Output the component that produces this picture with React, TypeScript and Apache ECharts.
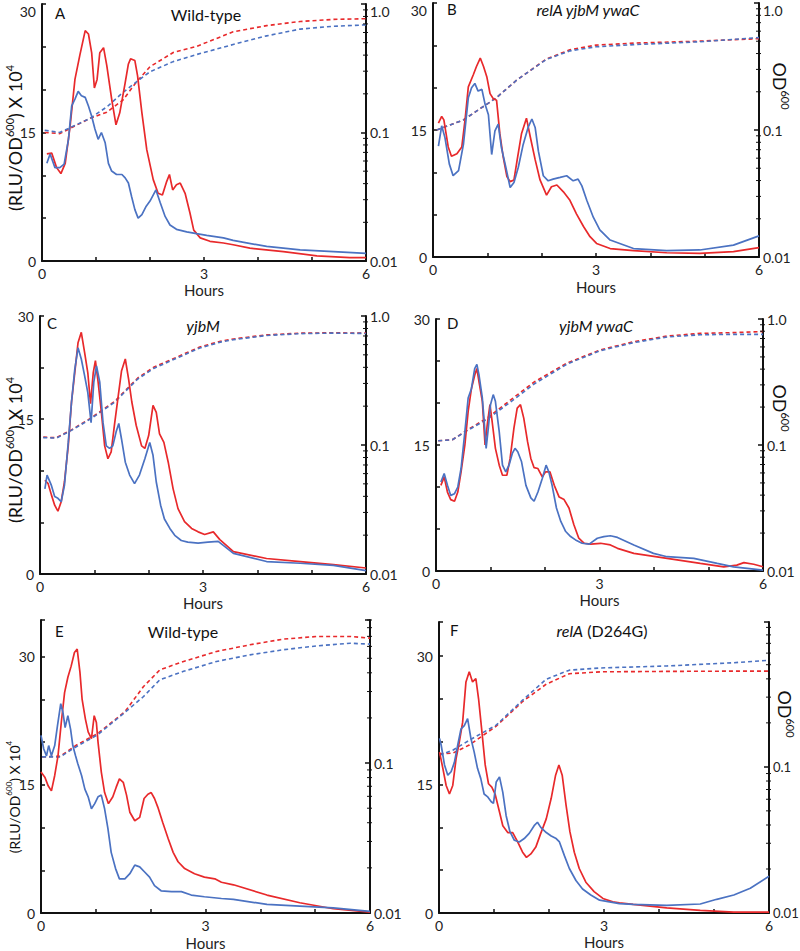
import React, { useEffect, useRef } from 'react';
import * as echarts from 'echarts';

const RED = '#e8292b';
const BLUE = '#4b72c2';
const FONT = 'Lato, "Open Sans", sans-serif';

// ---------- Data (hours, value) ----------
// Panel A  Wild-type
const aRedRLU = [[0.09,12.5],[0.18,12.6],[0.27,10.9],[0.35,10.2],[0.43,11.4],[0.52,15.7],[0.61,21.2],[0.70,24.0],[0.80,26.9],[0.86,26.5],[0.92,24.3],[0.97,20.2],[1.02,21.2],[1.07,24.3],[1.14,24.9],[1.20,22.8],[1.29,18.9],[1.37,15.9],[1.44,17.3],[1.54,20.8],[1.60,23.0],[1.64,23.6],[1.72,23.4],[1.77,21.6],[1.85,17.3],[1.94,13.0],[2.06,9.5],[2.15,7.9],[2.23,7.7],[2.31,9.3],[2.36,10.1],[2.42,8.3],[2.49,8.9],[2.56,9.1],[2.65,7.9],[2.74,5.6],[2.81,3.6],[2.93,2.7],[3.11,2.3],[3.36,2.1],[3.54,1.9],[3.85,1.5],[4.47,1.1],[5.09,0.6],[5.7,0.4],[6.0,0.4]];
const aBlueRLU = [[0.09,11.4],[0.15,12.5],[0.24,10.9],[0.33,10.9],[0.41,11.3],[0.49,14.2],[0.55,18.1],[0.61,18.9],[0.67,19.8],[0.73,19.3],[0.80,19.1],[0.86,18.1],[0.92,16.9],[0.98,15.4],[1.04,14.2],[1.10,15.0],[1.17,13.8],[1.23,11.4],[1.29,10.5],[1.38,10.1],[1.48,10.1],[1.54,9.7],[1.60,9.1],[1.66,7.5],[1.72,6.0],[1.78,5.0],[1.85,5.4],[1.93,6.4],[2.0,7.0],[2.11,8.3],[2.19,6.8],[2.28,5.2],[2.37,4.2],[2.49,3.7],[2.68,3.4],[2.86,3.2],[3.05,3.0],[3.36,2.7],[3.54,2.4],[4.16,1.7],[4.78,1.3],[5.4,1.1],[6.0,0.9]];
const aRedOD = [[0.05,0.1],[0.33,0.098],[0.89,0.129],[1.2,0.144],[1.5,0.179],[1.75,0.248],[2.0,0.325],[2.43,0.419],[2.86,0.467],[3.54,0.608],[4.16,0.679],[4.78,0.731],[5.4,0.759],[6.0,0.768]];
const aBlueOD = [[0.05,0.104],[0.33,0.1],[0.89,0.129],[1.2,0.158],[1.5,0.205],[1.75,0.248],[2.0,0.297],[2.43,0.356],[2.86,0.404],[3.54,0.484],[4.16,0.565],[4.78,0.638],[5.4,0.671],[6.0,0.688]];

// Panel B  relA yjbM ywaC
const bRedRLU = [[0.10,15.8],[0.16,16.6],[0.20,16.2],[0.28,13.0],[0.34,11.9],[0.44,12.2],[0.53,13.0],[0.59,16.2],[0.65,20.1],[0.74,21.5],[0.80,22.5],[0.87,23.5],[0.93,22.5],[0.99,21.3],[1.05,19.3],[1.11,18.7],[1.17,18.5],[1.23,14.6],[1.29,11.9],[1.36,9.5],[1.42,8.9],[1.49,9.1],[1.55,11.5],[1.63,14.6],[1.72,16.4],[1.79,14.2],[1.88,11.5],[1.97,9.1],[2.09,7.3],[2.18,8.3],[2.28,8.5],[2.40,7.7],[2.52,6.7],[2.64,5.1],[2.77,3.6],[2.89,2.4],[3.01,1.6],[3.26,1.0],[3.69,0.75],[4.3,0.5],[4.91,0.43],[5.53,0.63],[6.0,1.1]];
const bBlueRLU = [[0.10,13.1],[0.16,15.5],[0.22,14.1],[0.30,11.0],[0.37,9.6],[0.47,10.2],[0.56,13.3],[0.65,18.8],[0.71,20.0],[0.77,20.5],[0.83,19.6],[0.90,19.8],[0.96,18.0],[1.02,16.8],[1.08,12.1],[1.14,14.9],[1.20,15.7],[1.26,12.9],[1.34,10.6],[1.42,8.2],[1.49,8.8],[1.57,10.6],[1.66,13.3],[1.75,15.3],[1.82,16.3],[1.88,15.3],[1.94,12.5],[2.03,9.6],[2.12,9.0],[2.21,9.2],[2.34,9.4],[2.46,9.6],[2.58,9.0],[2.67,9.2],[2.74,8.4],[2.83,6.7],[2.95,4.7],[3.07,3.2],[3.26,2.0],[3.69,1.0],[4.3,0.75],[4.91,0.83],[5.53,1.4],[6.0,2.5]];
const bRedOD = [[0.07,0.1],[0.56,0.12],[1.17,0.18],[1.54,0.247],[2.09,0.363],[2.52,0.428],[3.0,0.466],[3.69,0.483],[4.91,0.501],[6.0,0.524]];
const bBlueOD = [[0.07,0.1],[0.56,0.12],[1.17,0.18],[1.54,0.247],[2.09,0.36],[2.52,0.42],[3.0,0.452],[3.69,0.47],[4.91,0.495],[6.0,0.534]];

// Panel C  yjbM
const cRedRLU = [[0.09,10.9],[0.15,10.5],[0.21,9.2],[0.27,8.0],[0.33,7.3],[0.39,8.4],[0.45,10.7],[0.52,14.9],[0.58,20.0],[0.64,23.4],[0.70,26.9],[0.76,28.1],[0.82,25.8],[0.88,23.4],[0.93,19.8],[0.98,23.4],[1.02,24.8],[1.07,22.3],[1.13,18.8],[1.19,14.9],[1.25,13.4],[1.31,14.2],[1.37,17.3],[1.44,20.7],[1.50,23.6],[1.57,25.0],[1.63,22.7],[1.69,20.0],[1.77,17.3],[1.87,14.9],[1.93,14.6],[2.0,16.1],[2.08,19.6],[2.14,18.8],[2.20,16.3],[2.28,15.3],[2.36,13.0],[2.45,9.9],[2.54,7.6],[2.66,6.1],[2.79,5.3],[2.91,4.9],[3.03,4.6],[3.19,4.9],[3.31,4.0],[3.56,2.6],[4.17,1.8],[4.79,1.45],[5.4,1.1],[6.0,0.7]];
const cBlueRLU = [[0.09,9.9],[0.13,11.5],[0.21,10.3],[0.27,9.0],[0.33,8.8],[0.39,8.4],[0.45,10.3],[0.52,15.3],[0.58,20.0],[0.64,23.8],[0.70,26.3],[0.76,25.0],[0.82,23.1],[0.88,21.1],[0.94,17.6],[0.99,22.3],[1.04,24.2],[1.10,22.3],[1.16,17.6],[1.22,14.9],[1.28,14.6],[1.34,14.9],[1.40,16.5],[1.45,17.5],[1.50,15.7],[1.57,13.0],[1.65,11.5],[1.74,10.5],[1.83,11.5],[1.93,13.4],[2.02,15.3],[2.08,13.8],[2.14,10.7],[2.22,8.0],[2.29,6.4],[2.39,5.3],[2.48,4.5],[2.60,3.9],[2.72,3.7],[2.91,3.6],[3.09,3.7],[3.28,3.8],[3.56,2.4],[4.17,1.45],[4.79,1.25],[5.4,1.0],[6.0,0.4]];
const cRedOD = [[0.06,0.115],[0.3,0.114],[0.58,0.131],[0.94,0.162],[1.37,0.217],[1.8,0.331],[2.09,0.4],[2.42,0.46],[2.94,0.575],[3.34,0.64],[3.56,0.664],[4.17,0.714],[4.79,0.736],[5.4,0.741],[6.0,0.736]];
const cBlueOD = [[0.06,0.114],[0.3,0.113],[0.58,0.13],[0.94,0.16],[1.37,0.214],[1.8,0.325],[2.09,0.392],[2.42,0.452],[2.94,0.565],[3.34,0.63],[3.56,0.655],[4.17,0.706],[4.79,0.73],[5.4,0.737],[6.0,0.732]];

// Panel D  yjbM ywaC
const dRedRLU = [[0.09,10.2],[0.15,11.2],[0.21,9.4],[0.27,8.5],[0.34,8.3],[0.40,9.4],[0.46,11.8],[0.53,15.0],[0.59,19.0],[0.65,21.7],[0.71,23.3],[0.75,24.1],[0.79,22.5],[0.85,20.2],[0.90,15.0],[0.94,17.4],[0.99,19.8],[1.03,17.8],[1.09,14.6],[1.16,12.6],[1.22,11.4],[1.30,11.4],[1.36,13.4],[1.43,17.0],[1.49,19.4],[1.55,19.8],[1.61,18.2],[1.68,15.4],[1.74,13.4],[1.80,12.3],[1.87,12.2],[1.95,11.2],[2.01,11.8],[2.09,11.8],[2.17,10.2],[2.26,8.8],[2.35,8.5],[2.44,7.5],[2.53,5.5],[2.62,3.9],[2.72,3.3],[2.84,3.2],[3.02,3.3],[3.20,3.1],[3.33,2.7],[3.63,2.1],[4.24,1.5],[4.85,0.9],[5.28,0.5],[5.52,0.7],[5.65,1.0],[5.83,0.8],[6.0,0.5]];
const dBlueRLU = [[0.09,10.6],[0.15,11.6],[0.21,10.2],[0.27,9.0],[0.34,9.2],[0.40,10.0],[0.46,12.2],[0.53,16.6],[0.59,20.6],[0.65,21.7],[0.71,24.1],[0.75,24.6],[0.79,23.3],[0.85,20.6],[0.88,18.2],[0.92,14.6],[0.96,17.0],[1.0,19.8],[1.05,21.0],[1.09,20.2],[1.16,16.6],[1.22,12.6],[1.28,11.8],[1.34,12.6],[1.40,14.0],[1.45,14.6],[1.50,14.2],[1.57,13.0],[1.65,10.2],[1.74,8.7],[1.80,8.3],[1.87,9.4],[1.95,11.0],[2.02,12.6],[2.07,11.8],[2.13,10.2],[2.21,7.5],[2.29,5.9],[2.38,4.7],[2.47,4.1],[2.56,3.7],[2.68,3.3],[2.81,3.2],[2.96,3.9],[3.08,4.1],[3.20,4.2],[3.33,4.0],[3.63,3.1],[3.99,2.1],[4.24,1.7],[4.73,1.5],[5.16,0.9],[5.46,0.5],[6.0,0.1]];
const dRedOD = [[0.04,0.108],[0.3,0.11],[0.57,0.131],[0.94,0.164],[1.37,0.228],[1.8,0.316],[2.41,0.448],[3.01,0.568],[3.63,0.661],[4.24,0.733],[4.85,0.769],[5.46,0.78],[6.0,0.795]];
const dBlueOD = [[0.04,0.108],[0.3,0.11],[0.57,0.13],[0.94,0.16],[1.37,0.22],[1.8,0.305],[2.41,0.44],[3.01,0.56],[3.63,0.65],[4.24,0.72],[4.85,0.75],[5.46,0.755],[6.0,0.755]];

// Panel E  Wild-type
const eRedRLU = [[0.0,16.5],[0.07,15.9],[0.13,14.9],[0.19,14.3],[0.25,16.1],[0.31,18.4],[0.37,22.3],[0.43,25.8],[0.49,27.6],[0.55,28.9],[0.61,30.5],[0.66,30.9],[0.71,28.2],[0.75,25.0],[0.81,22.7],[0.86,21.2],[0.92,20.4],[0.97,23.1],[1.01,22.3],[1.04,20.0],[1.10,16.5],[1.16,14.1],[1.23,12.8],[1.31,13.6],[1.37,14.7],[1.43,15.7],[1.50,15.3],[1.56,13.8],[1.62,11.8],[1.71,10.8],[1.80,11.2],[1.88,13.4],[1.95,13.9],[2.01,14.1],[2.07,13.4],[2.13,12.4],[2.22,10.6],[2.32,8.7],[2.41,7.1],[2.50,6.0],[2.62,5.2],[2.80,4.6],[2.98,4.2],[3.17,4.0],[3.29,3.6],[3.51,3.3],[4.12,2.1],[4.72,1.2],[5.33,0.5],[6.0,0.1]];
const eBlueRLU = [[0.0,20.8],[0.05,19.2],[0.10,18.4],[0.14,19.6],[0.19,18.4],[0.25,19.6],[0.30,21.9],[0.36,24.5],[0.40,23.5],[0.44,21.7],[0.49,23.1],[0.54,21.5],[0.58,19.6],[0.63,18.4],[0.67,17.5],[0.74,16.1],[0.80,14.5],[0.86,13.6],[0.92,12.2],[0.98,12.8],[1.04,13.6],[1.10,13.8],[1.16,12.2],[1.22,9.9],[1.28,7.1],[1.36,5.2],[1.43,4.0],[1.53,4.0],[1.62,4.6],[1.71,5.6],[1.80,5.4],[1.89,4.8],[1.98,4.2],[2.07,3.2],[2.19,2.6],[2.38,2.5],[2.56,2.5],[2.74,2.1],[2.98,1.9],[3.29,1.7],[3.51,1.6],[4.12,1.0],[4.72,0.8],[5.33,0.6],[6.0,0.2]];
const eRedOD = [[0.02,0.11],[0.35,0.111],[0.65,0.132],[1.04,0.158],[1.53,0.22],[1.87,0.324],[2.17,0.419],[2.6,0.476],[3.2,0.555],[3.81,0.615],[4.42,0.671],[5.03,0.699],[5.64,0.699],[6.0,0.681]];
const eBlueOD = [[0.02,0.11],[0.35,0.11],[0.65,0.129],[1.04,0.155],[1.53,0.218],[1.87,0.278],[2.17,0.36],[2.6,0.409],[3.2,0.476],[3.81,0.527],[4.42,0.57],[5.03,0.605],[5.64,0.63],[6.0,0.621]];

// Panel F  relA (D264G)
const fRedRLU = [[0.01,18.8],[0.07,16.9],[0.13,14.9],[0.19,13.9],[0.25,14.9],[0.31,18.0],[0.37,20.0],[0.43,22.3],[0.49,27.0],[0.55,28.2],[0.61,27.0],[0.67,27.4],[0.72,25.0],[0.78,21.2],[0.84,17.3],[0.90,15.1],[0.96,14.7],[1.02,13.9],[1.10,11.8],[1.16,10.2],[1.25,9.4],[1.34,9.4],[1.43,8.3],[1.52,7.1],[1.59,6.5],[1.67,6.9],[1.76,7.7],[1.85,9.3],[1.95,11.0],[2.04,13.4],[2.12,16.1],[2.18,17.3],[2.24,16.1],[2.31,12.6],[2.38,9.5],[2.46,7.1],[2.55,5.2],[2.67,3.6],[2.82,2.5],[2.98,1.7],[3.16,1.3],[3.28,1.2],[3.53,1.0],[4.14,0.6],[4.75,0.3],[5.36,0.1],[6.0,0.1]];
const fBlueRLU = [[0.01,20.4],[0.04,19.6],[0.10,17.3],[0.16,16.1],[0.22,16.5],[0.28,17.6],[0.34,19.6],[0.40,21.5],[0.46,21.9],[0.52,22.7],[0.58,20.4],[0.64,18.8],[0.70,16.9],[0.76,15.7],[0.82,13.9],[0.88,13.6],[0.95,13.0],[0.99,12.8],[1.04,15.3],[1.10,15.9],[1.16,14.1],[1.22,11.4],[1.29,9.5],[1.37,8.5],[1.46,8.3],[1.55,8.7],[1.64,9.3],[1.73,10.2],[1.79,10.6],[1.85,10.0],[1.95,9.4],[2.04,9.0],[2.13,8.7],[2.19,8.3],[2.28,6.7],[2.37,5.2],[2.49,3.8],[2.61,2.8],[2.76,2.1],[2.92,1.5],[3.10,1.3],[3.28,1.1],[3.53,1.0],[4.14,0.9],[4.75,1.05],[5.05,1.6],[5.36,2.1],[5.66,2.9],[6.0,4.3]];
const fRedOD = [[0.01,0.123],[0.25,0.124],[0.55,0.141],[1.04,0.19],[1.52,0.28],[1.95,0.368],[2.37,0.434],[2.93,0.447],[4.14,0.45],[5.36,0.452],[6.0,0.452]];
const fBlueOD = [[0.01,0.12],[0.25,0.13],[0.55,0.152],[1.04,0.193],[1.52,0.286],[1.95,0.398],[2.37,0.459],[2.93,0.475],[4.14,0.49],[5.36,0.516],[6.0,0.536]];

// Axis tick labels
const xTickLabels = ['0', '3', '6'];
const leftLabelsStd: Record<string, string> = { '0': '0', '15': '15', '30': '30' };
const leftLabelsC: Record<string, string> = { '0': '0', '18': '15', '30': '30' };
const minorLogTicks = [0.02, 0.03, 0.04, 0.05, 0.06, 0.07, 0.08, 0.09, 0.2, 0.3, 0.4, 0.5, 0.6, 0.7, 0.8, 0.9];

const seriesData = [
  [aRedRLU, aBlueRLU, aRedOD, aBlueOD],
  [bRedRLU, bBlueRLU, bRedOD, bBlueOD],
  [cRedRLU, cBlueRLU, cRedOD, cBlueOD],
  [dRedRLU, dBlueRLU, dRedOD, dBlueOD],
  [eRedRLU, eBlueRLU, eRedOD, eBlueOD],
  [fRedRLU, fBlueRLU, fRedOD, fBlueOD],
];

const panels = [
  { grid: { left: 42, top: 4, width: 324, height: 257 }, yMax: 30, yStep: 5, yLab: leftLabelsStd, logMax: 1, hoursGap: 21, topAlign: true, rightFont: 14,
    letter: { t: 'A', x: 55, y: 13 }, title: { t: 'Wild-type', x: 206, y: 14 }, leftName: { x: 14, y: 138, size: 18 }, rightName: null },
  { grid: { left: 433, top: 3, width: 326, height: 254 }, yMax: 30, yStep: 5, yLab: leftLabelsStd, logMax: 1, hoursGap: 22, topAlign: true, rightFont: 14,
    letter: { t: 'B', x: 447, y: 9 }, title: { t: '{i|relA yjbM ywaC}', x: 588, y: 9 }, leftName: null, rightName: { x: 781, y: 86 } },
  { grid: { left: 40, top: 316, width: 326, height: 258 }, yMax: 30, yStep: 6, yLab: leftLabelsC, logMax: 1, hoursGap: 21, topAlign: false, rightFont: 14,
    letter: { t: 'C', x: 47, y: 323 }, title: { t: '{i|yjbM}', x: 203, y: 325 }, leftName: { x: 14, y: 450, size: 18 }, rightName: null },
  { grid: { left: 436, top: 319, width: 327, height: 252 }, yMax: 30, yStep: 5, yLab: leftLabelsStd, logMax: 1, hoursGap: 21, topAlign: false, rightFont: 14,
    letter: { t: 'D', x: 447, y: 323 }, title: { t: '{i|yjbM ywaC}', x: 596, y: 325 }, leftName: null, rightName: { x: 781, y: 408 } },
  { grid: { left: 41, top: 620, width: 329, height: 293 }, yMax: 34.3, yStep: 5, yLab: leftLabelsStd, logMax: 0.9, hoursGap: 22, topAlign: false, rightFont: 14,
    letter: { t: 'E', x: 55, y: 631 }, title: { t: 'Wild-type', x: 183, y: 631 }, leftName: { x: 13, y: 797, size: 14 }, rightName: null },
  { grid: { left: 439, top: 622, width: 330, height: 291 }, yMax: 34.0, yStep: 5, yLab: leftLabelsStd, logMax: 0.98, hoursGap: 21, topAlign: false, rightFont: 13,
    letter: { t: 'F', x: 450, y: 630 }, title: { t: '{i|relA} (D264G)', x: 602, y: 630 }, leftName: null, rightName: { x: 786, y: 714 } },
];

function logLabel(v: number): string {
  const l = Math.log10(v);
  if (Math.abs(l + 2) < 1e-6) return '0.01';
  if (Math.abs(l + 1) < 1e-6) return '0.1';
  if (Math.abs(l) < 1e-6) return '1.0';
  return '';
}

function buildOption() {
  const grid: any[] = [];
  const xAxis: any[] = [];
  const yAxis: any[] = [];
  const series: any[] = [];
  const graphic: any[] = [];
  const axisLine = { show: true, onZero: false, lineStyle: { color: '#111', width: 2 } };
  const labelStyle = { color: '#222', fontSize: 14, lineHeight: 14, fontFamily: FONT };

  panels.forEach((p, i) => {
    grid.push({ ...p.grid, outerBoundsMode: 'none', containLabel: false });
    xAxis.push({
      type: 'value', gridIndex: i, min: 0, max: 6, interval: 1,
      axisLine, splitLine: { show: false },
      axisTick: { show: true, inside: true, length: 4, lineStyle: { color: '#111', width: 1.5 } },
      axisLabel: { ...labelStyle, margin: 5, formatter: (v: number) => (xTickLabels.includes(String(v)) ? String(v) : '') },
      name: 'Hours', nameLocation: 'middle', nameGap: p.hoursGap,
      nameTextStyle: { color: '#222', fontSize: 15, lineHeight: 15, fontFamily: FONT },
    });
    const maxAlign = p.topAlign ? { verticalAlignMaxLabel: 'top' } : {};
    yAxis.push({
      type: 'value', gridIndex: i, position: 'left', min: 0, max: p.yMax, interval: p.yStep,
      axisLine, splitLine: { show: false },
      axisTick: { show: true, inside: true, length: 4, lineStyle: { color: '#111', width: 1.5 } },
      axisLabel: { ...labelStyle, ...maxAlign, margin: 6, formatter: (v: number) => p.yLab[String(v)] ?? '' },
    });
    yAxis.push({
      type: 'log', logBase: 10, gridIndex: i, position: 'right', min: 0.01, max: p.logMax,
      axisLine, splitLine: { show: false }, minorTick: { show: false },
      axisTick: { show: true, inside: true, length: 5, lineStyle: { color: '#111', width: 1.5 } },
      axisLabel: { ...labelStyle, fontSize: p.rightFont, ...maxAlign, margin: 4, formatter: (v: number) => logLabel(v) },
    });
    const [redR, blueR, redO, blueO] = seriesData[i];
    const base = { type: 'line', xAxisIndex: i, showSymbol: false, symbol: 'none', silent: true };
    series.push({ ...base, yAxisIndex: 2 * i + 1, data: redO, lineStyle: { color: RED, width: 1.6, type: [4, 3] }, z: 2 });
    series.push({ ...base, yAxisIndex: 2 * i + 1, data: blueO, lineStyle: { color: BLUE, width: 1.6, type: [4, 3] }, z: 2 });
    series.push({ ...base, yAxisIndex: 2 * i, data: redR, lineStyle: { color: RED, width: 1.7 }, z: 3 });
    series.push({ ...base, yAxisIndex: 2 * i, data: blueR, lineStyle: { color: BLUE, width: 1.7 }, z: 4 });
    series.push({
      type: 'custom', xAxisIndex: i, yAxisIndex: 2 * i + 1, silent: true, clip: false, z: 5,
      data: minorLogTicks.filter((v) => v <= p.logMax + 1e-9).map((v) => [6, v]),
      renderItem: (params: any, api: any) => {
        const pt = api.coord([api.value(0), api.value(1)]);
        return { type: 'line', shape: { x1: pt[0] - 3, y1: pt[1], x2: pt[0] + 2, y2: pt[1] }, style: { stroke: '#111', lineWidth: 1 } };
      },
    });

    graphic.push({
      type: 'text', x: p.letter.x, y: p.letter.y,
      style: { text: p.letter.t, fill: '#111', fontSize: 15, fontFamily: FONT, align: 'left', verticalAlign: 'middle', textAlign: 'left', textVerticalAlign: 'middle' },
    });
    graphic.push({
      type: 'text', x: p.title.x, y: p.title.y,
      style: {
        text: p.title.t, fill: '#111', fontSize: 16, fontFamily: FONT,
        align: 'center', verticalAlign: 'middle', textAlign: 'center', textVerticalAlign: 'middle',
        rich: { i: { fontStyle: 'italic', fontSize: 16, fontFamily: FONT, fill: '#111' } },
      },
    });
    if (p.leftName) {
      const s = p.leftName.size;
      graphic.push({
        type: 'text', x: p.leftName.x, y: p.leftName.y, rotation: Math.PI / 2,
        style: {
          text: '{n|(RLU/OD}{sup|600}{n|) X 10}{sup|4}', fill: '#111', fontFamily: FONT,
          align: 'center', verticalAlign: 'middle', textAlign: 'center', textVerticalAlign: 'middle',
          rich: {
            n: { fontSize: s, fontFamily: FONT, fill: '#111', lineHeight: s + 2, verticalAlign: 'bottom' },
            sup: { fontSize: Math.round(s * 0.6), fontFamily: FONT, fill: '#111', lineHeight: Math.round(s * 0.6), verticalAlign: 'top' },
          },
        },
      });
    }
    if (p.rightName) {
      graphic.push({
        type: 'text', x: p.rightName.x, y: p.rightName.y, rotation: -Math.PI / 2,
        style: {
          text: '{n|OD}{sup|600}', fill: '#111', fontFamily: FONT,
          align: 'center', verticalAlign: 'middle', textAlign: 'center', textVerticalAlign: 'middle',
          rich: {
            n: { fontSize: 18, fontFamily: FONT, fill: '#111', lineHeight: 20, verticalAlign: 'bottom' },
            sup: { fontSize: 11, fontFamily: FONT, fill: '#111', lineHeight: 11, verticalAlign: 'top' },
          },
        },
      });
    }
  });

  return { animation: false, backgroundColor: '#fff', grid, xAxis, yAxis, series, graphic };
}

export default function App() {
  const ref = useRef<HTMLDivElement>(null);
  useEffect(() => {
    if (!ref.current) return;
    const chart = echarts.init(ref.current, null, { renderer: 'svg' });
    chart.setOption(buildOption() as any);
    return () => chart.dispose();
  }, []);
  return <div ref={ref} style={{ position: 'absolute', left: 0, top: 0, width: 800, height: 951, background: '#fff' }} />;
}
